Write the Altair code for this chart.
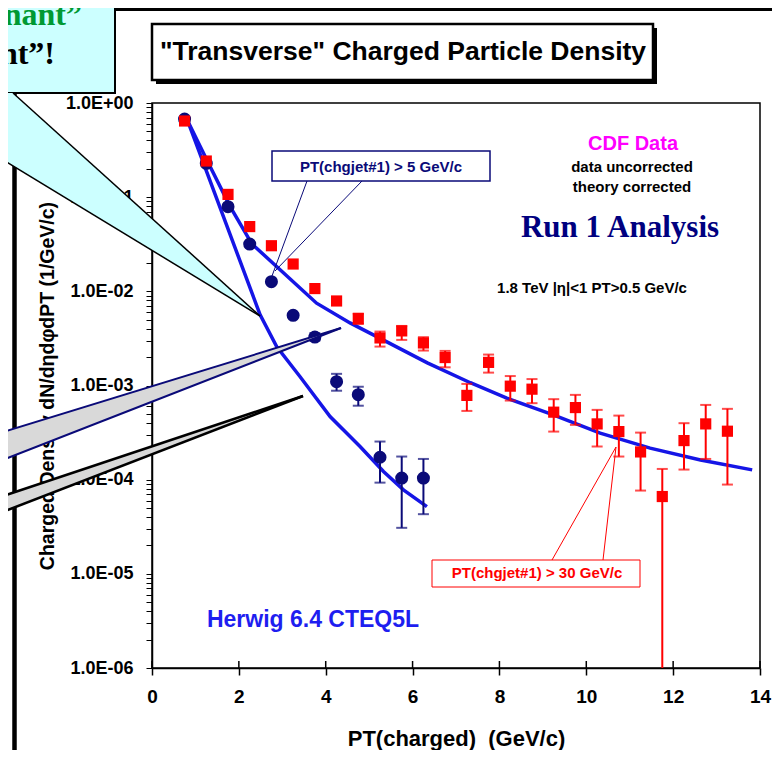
import altair as alt
import pandas as pd

# ---------------- data ----------------
# CDF data, PT(chgjet#1) > 30 GeV/c (red squares)
red_pt = [0.75, 1.25, 1.75, 2.25, 2.75, 3.25, 3.75, 4.25, 4.75, 5.25, 5.75, 6.25, 6.75,
          7.25, 7.75, 8.25, 8.75, 9.25, 9.75, 10.25, 10.75, 11.25, 11.75, 12.25, 12.75, 13.25]
red_val = [0.644, 0.242, 0.107, 0.0487, 0.0305, 0.0195, 0.0107, 0.0079, 0.00513, 0.0032,
           0.0038, 0.00283, 0.00198, 0.000785, 0.00176, 0.000984, 0.000914, 0.000521,
           0.000583, 0.000391, 0.000324, 0.000197, 0.0000662, 0.00026, 0.000391, 0.000327]
red_err_pt = [4.75, 5.25, 5.75, 6.25, 6.75, 7.25, 7.75, 8.25, 8.75, 9.25, 9.75, 10.25,
              10.75, 11.25, 11.75, 12.25, 12.75, 13.25]
red_err_hi = [0.0058, 3.74e-3, 4.29e-3, 3.26e-3, 2.33e-3, 1.04e-3, 2.13e-3, 1.26e-3, 1.17e-3,
              7.16e-4, 7.95e-4, 5.51e-4, 4.79e-4, 3.16e-4, 1.30e-4, 3.98e-4, 6.22e-4, 5.65e-4]
red_err_lo = [0.0045, 2.59e-3, 3.05e-3, 2.35e-3, 1.56e-3, 5.37e-4, 1.37e-3, 6.92e-4, 6.49e-4,
              3.24e-4, 3.82e-4, 2.25e-4, 1.76e-4, 7.66e-5, 1e-7, 1.28e-4, 1.66e-4, 8.87e-5]

# CDF data, PT(chgjet#1) > 5 GeV/c (navy circles)
blue_pt = [0.75, 1.25, 1.75, 2.25, 2.75, 3.25, 3.75, 4.25, 4.75, 5.25, 5.75, 6.25]
blue_val = [0.676, 0.229, 0.0792, 0.0318, 0.01265, 0.00556, 0.00327, 0.001097, 0.000798,
            0.000173, 0.000104, 0.000104]
blue_err_pt = [3.75, 4.25, 4.75, 5.25, 5.75, 6.25]
blue_err_hi = [3.6e-3, 1.33e-3, 9.7e-4, 2.54e-4, 1.76e-4, 1.66e-4]
blue_err_lo = [3.0e-3, 8.8e-4, 6.1e-4, 9.3e-5, 3.08e-5, 4.3e-5]

# Herwig 6.4 CTEQ5L theory curves
herwig5_pt = [0.80, 2.49, 2.87, 3.41, 4.10, 4.79, 5.33, 5.79, 6.33]
herwig5_val = [0.687, 0.00562, 0.00259, 0.00124, 4.68e-4, 2.25e-4, 1.22e-4, 7.8e-5, 5.18e-5]
herwig30_pt = [0.80, 1.30, 1.80, 2.30, 3.79, 4.56, 5.32, 6.34, 7.33, 8.17, 9.24, 10.32,
               11.47, 12.63, 13.82]
herwig30_val = [0.676, 0.229, 0.0794, 0.0319, 0.00748, 0.00462, 0.00305, 0.00174, 0.00107,
                7.33e-4, 4.87e-4, 3.12e-4, 2.16e-4, 1.62e-4, 1.27e-4]

x_ticks = [0, 2, 4, 6, 8, 10, 12, 14]
y_decades = [1e-6, 1e-5, 1e-4, 1e-3, 1e-2, 1e-1, 1.0]

# ---------------- layout / style ----------------
OX, OY = 152, 103          # page position of the plot origin
W, H = 608, 565            # plot area
X_MAX = 14
LOG_SPAN = 6
SANS = "Liberation Sans"
SERIF = "Liberation Serif"
RED = "#ff0000"
NAVY = "#0a0a78"
BLUE = "#1515e6"
HBLUE = "#1e1ef0"


def px(xp):
    return xp - OX


def py(yp):
    return yp - OY


def to_data(xp, yp):
    return (xp - OX) / W * X_MAX, 10 ** (-(yp - OY) / H * LOG_SPAN)


y_values = [m * d for d in y_decades[:-1] for m in range(1, 10)] + [1.0]

xs = alt.Scale(domain=[0, 14], nice=False, zero=False)
ys = alt.Scale(type="log", domain=[1e-6, 1], nice=False)

xaxis = alt.Axis(values=x_ticks, format="d", title="PT(charged)\u00a0 (GeV/c)",
                 grid=False, tickSize=7, tickColor="black", domainColor="black",
                 domainWidth=1.5, tickWidth=1.5, labelFont=SANS, labelFontSize=19,
                 labelFontWeight="bold", labelColor="black", labelPadding=12,
                 labelFlush=False, titleFont=SANS, titleFontSize=22,
                 titleFontWeight="bold", titleColor="black", titlePadding=22)

y_label_expr = ("abs(log(datum.value)/LN10 - round(log(datum.value)/LN10)) < 0.001 ? "
                "'1.0E' + (datum.value >= 1 ? '+' : '-') + '0' + "
                "abs(round(log(datum.value)/LN10)) : ''")
yaxis = alt.Axis(values=y_values, labelExpr=y_label_expr,
                 title="Charged Density dN/d\u03b7d\u03c6dPT (1/GeV/c)",
                 grid=False, tickSize=6, tickColor="black", domainColor="black",
                 domainWidth=1.5, tickWidth=1, labelFont=SANS, labelFontSize=18,
                 labelFontWeight="bold", labelColor="black", labelPadding=13,
                 labelOverlap=False, labelFlush=False, labelBound=False,
                 titleFont=SANS, titleFontSize=19.5, titleFontWeight="bold",
                 titleColor="black", titleAngle=270, titleX=-105, titleY=H / 2,
                 titleAlign="center", titleBaseline="middle")

X = lambda f: alt.X(f, type="quantitative", scale=xs, axis=xaxis)
Y = lambda f: alt.Y(f, type="quantitative", scale=ys, axis=yaxis)

one = pd.DataFrame({"a": [0]})


def rect(x1, y1, x2, y2, **kw):
    return alt.Chart(one).mark_rect(**kw).encode(
        x=alt.value(px(x1)), x2=alt.value(px(x2)), y=alt.value(py(y1)), y2=alt.value(py(y2)))


def seg(x1, y1, x2, y2, color, width):
    return alt.Chart(one).mark_rule(color=color, strokeWidth=width).encode(
        x=alt.value(px(x1)), x2=alt.value(px(x2)), y=alt.value(py(y1)), y2=alt.value(py(y2)))


def label(txt, xp, yp, size, color="black", font=SANS, align="center", baseline="middle"):
    return alt.Chart(one).mark_text(text=txt, font=font, fontSize=size, fontWeight="bold",
                                    color=color, align=align, baseline=baseline).encode(
        x=alt.value(px(xp)), y=alt.value(py(yp)))


def wedge(xs_page, top_page, bottom_page, fill):
    rows = []
    for xp, yt, yb in zip(xs_page, top_page, bottom_page):
        xd, ytd = to_data(xp, yt)
        _, ybd = to_data(xp, yb)
        rows.append({"x": xd, "y": ytd, "y2": ybd})
    return alt.Chart(pd.DataFrame(rows)).mark_area(color=fill, opacity=1).encode(
        x=X("x"), y=Y("y"), y2="y2:Q")


# ---------------- data layers ----------------
red_df = pd.DataFrame({"x": red_pt, "y": red_val})
red_err = pd.DataFrame({"x": red_err_pt, "hi": red_err_hi, "lo": red_err_lo})
blue_df = pd.DataFrame({"x": blue_pt, "y": blue_val})
blue_err = pd.DataFrame({"x": blue_err_pt, "hi": blue_err_hi, "lo": blue_err_lo})
h5 = pd.DataFrame({"x": herwig5_pt, "y": herwig5_val})
h30 = pd.DataFrame({"x": herwig30_pt, "y": herwig30_val})
xt = pd.DataFrame({"x": x_ticks})

inner_ticks = alt.Chart(xt).mark_rule(color="black", strokeWidth=1.5).encode(
    x=X("x"), y=alt.value(H - 7), y2=alt.value(H))

line5 = alt.Chart(h5).mark_line(color=BLUE, strokeWidth=3.5).encode(x=X("x"), y=Y("y"))
line30 = alt.Chart(h30).mark_line(color=BLUE, strokeWidth=3.5).encode(x=X("x"), y=Y("y"))


def errbars(df, color):
    base = alt.Chart(df)
    bar = base.mark_rule(color=color, strokeWidth=2, clip=True).encode(
        x=X("x"), y=Y("hi"), y2="lo:Q")
    cap_hi = base.mark_tick(color=color, orient="horizontal", size=11, thickness=2,
                            clip=True).encode(x=X("x"), y=Y("hi"))
    cap_lo = base.mark_tick(color=color, orient="horizontal", size=11, thickness=2,
                            clip=True).encode(x=X("x"), y=Y("lo"))
    return [bar, cap_hi, cap_lo]


blue_pts = alt.Chart(blue_df).mark_circle(color=NAVY, size=170, opacity=1).encode(
    x=X("x"), y=Y("y"))
red_pts = alt.Chart(red_df).mark_square(color=RED, size=125, opacity=1).encode(
    x=X("x"), y=Y("y"))

# ---------------- annotations ----------------
annot = [
    # callout: PT(chgjet#1) > 5 GeV/c
    seg(307, 181, 272, 276, NAVY, 1),
    seg(362, 181, 275, 271, NAVY, 1),
    rect(272, 151, 490, 181, fill="white", stroke=NAVY, strokeWidth=1.5),
    label("PT(chgjet#1) > 5 GeV/c", 381, 167, 15, NAVY),
    # callout: PT(chgjet#1) > 30 GeV/c
    seg(552, 560, 616, 447, RED, 1),
    seg(603, 560, 616, 447, RED, 1),
    rect(432, 560, 640, 587, fill="white", stroke=RED, strokeWidth=1),
    label("PT(chgjet#1) > 30 GeV/c", 537, 573, 15, RED),
    # texts
    label("CDF Data", 633, 144, 20, "#ff00ff"),
    label("data uncorrected", 632, 167, 15),
    label("theory corrected", 632, 187, 15),
    label("Run 1 Analysis", 620, 228, 31, "#000080", font=SERIF),
    label("1.8 TeV |\u03b7|<1 PT>0.5 GeV/c", 592, 288, 15),
    label("Herwig 6.4 CTEQ5L", 313, 620, 23, HBLUE),
    # title box with shadow
    rect(156, 28, 657, 84, fill="black"),
    rect(152, 24, 653, 80, fill="white", stroke="black", strokeWidth=2.5),
    label('"Transverse" Charged Particle Density', 403, 52, 26.5),
    # slide decorations
    rect(-10, 8, 780, 11, fill="black"),
    seg(14.5, 93, 14.5, 760, "black", 4.5),
    rect(-10, -10, 115, 93, fill="#ccffff", stroke="black", strokeWidth=2),
    wedge([0, 13, 260], [93, 93, 316], [158, 165.8, 316], "#ccffff"),
    seg(13, 93, 260, 316, "black", 1.5),
    seg(0, 158, 260, 316, "black", 1.5),
    label("\u201cdominant\u201d", 82, 25, 32, "#009933", font=SERIF, align="right",
          baseline="alphabetic"),
    label("\u201chard component\u201d!", 55, 64, 32, "black", font=SERIF, align="right",
          baseline="alphabetic"),
    wedge([0, 341], [433, 328], [461, 328], "#d9d9d9"),
    seg(0, 433, 341, 328, NAVY, 2),
    seg(0, 461, 341, 328, NAVY, 2),
    wedge([0, 303], [497, 396], [513, 396], "#d9d9d9"),
    seg(0, 497, 303, 396, "black", 2.5),
    seg(0, 513, 303, 396, "black", 2.5),
]

layers = ([inner_ticks, line5, line30] + errbars(blue_err, NAVY) + [blue_pts]
          + errbars(red_err, RED) + [red_pts] + annot)

chart = alt.layer(*layers).properties(
    width=W, height=H,
    padding={"left": OX - 8, "top": OY - 8, "right": 12, "bottom": 82},
    autosize=alt.AutoSizeParams(type="none"),
    background="white",
).configure_view(stroke="black", strokeWidth=1.5)

chart.save("out.html", embed_options={"renderer": "svg", "actions": False})
